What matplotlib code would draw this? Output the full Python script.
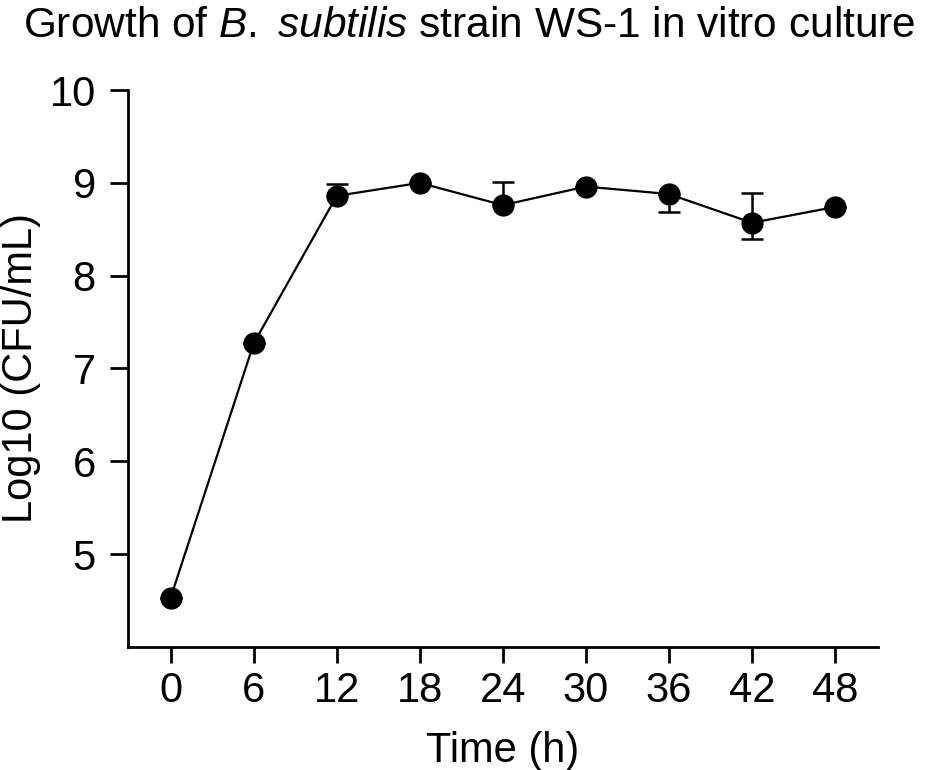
import numpy as np
import matplotlib as mpl
from matplotlib import pyplot as plt

mpl.rcParams['font.family'] = ['Liberation Sans', 'DejaVu Sans']
mpl.rcParams['mathtext.fontset'] = 'custom'
mpl.rcParams['mathtext.rm'] = 'Liberation Sans'
mpl.rcParams['mathtext.it'] = 'Liberation Sans:italic'

time_h = [0, 6, 12, 18, 24, 30, 36, 42, 48]
log_cfu = [4.53, 7.27, 8.86, 9.00, 8.76, 8.96, 8.88, 8.57, 8.74]
err_low = [0, 0, 0, 0, 0, 0, 0.19, 0.18, 0]
err_up = [0, 0, 0.13, 0, 0.25, 0, 0, 0.32, 0]

fig = plt.figure(figsize=(9.26, 7.7), dpi=100)
ax = fig.add_axes([0.138, 0.160, 0.810, 0.723])

ax.errorbar(time_h, log_cfu, yerr=[err_low, err_up], color='black',
            marker='o', markersize=15, linewidth=1.6, elinewidth=1.8,
            capsize=8, capthick=1.8)

ax.set_xlim(-3.1, 51.1)
ax.set_ylim(4, 10)
ax.set_xticks(time_h)
ax.set_yticks([5, 6, 7, 8, 9, 10])
for s in ['top', 'right']:
    ax.spines[s].set_visible(False)
for s in ['left', 'bottom']:
    ax.spines[s].set_linewidth(2)
ax.tick_params(axis='both', direction='out', width=2, labelsize=30)
ax.tick_params(axis='x', length=11.5, pad=6)
ax.tick_params(axis='y', length=13, pad=10)

ax.set_xlabel('Time (h)', fontsize=30, labelpad=14)
ax.set_ylabel('Log10 (CFU/mL)', fontsize=30, labelpad=6)
# title with italic species name
fig.text(0.507, 0.992, r'Growth of $B.$ $subtilis$ strain WS-1 in vitro culture',
         ha='center', va='top', fontsize=30.5)

fig.savefig('out.png', dpi=100)
